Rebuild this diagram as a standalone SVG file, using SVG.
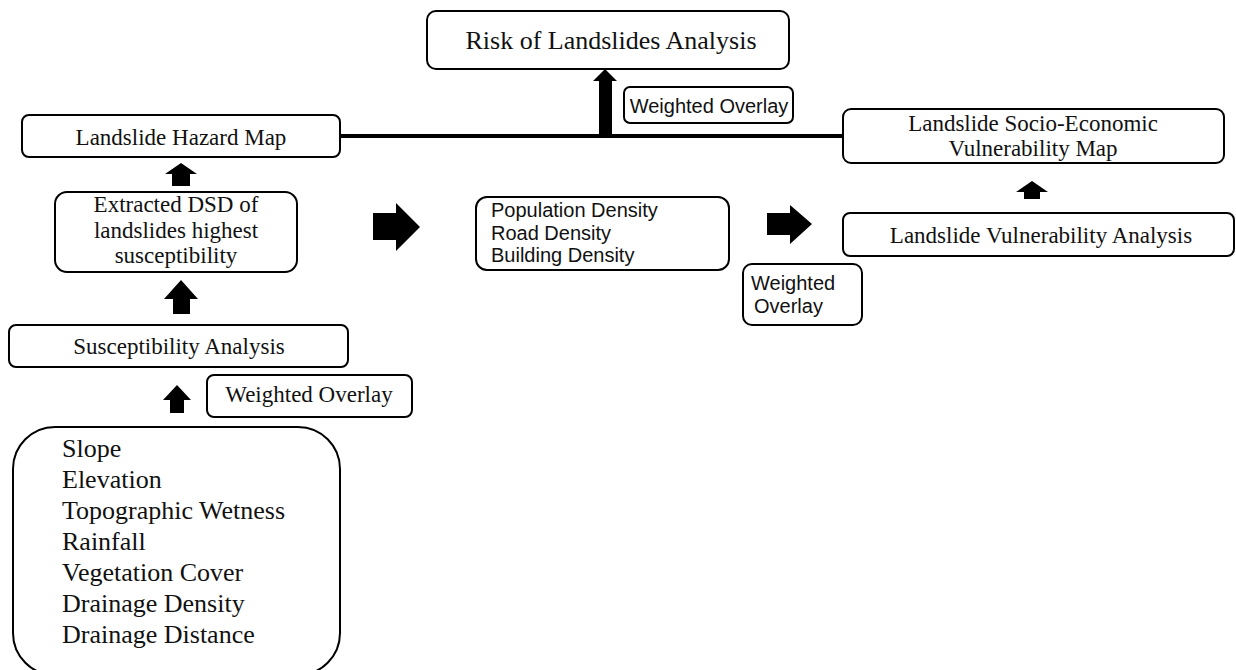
<svg xmlns="http://www.w3.org/2000/svg" width="1236" height="670" viewBox="0 0 1236 670">
<style>
.box{fill:#fff;stroke:#000;stroke-width:2}
.serif{font-family:"Liberation Serif","Times New Roman",serif;fill:#111;font-size:23px}
.sans{font-family:"Liberation Sans",Arial,sans-serif;fill:#111;font-size:20px}
.arr{fill:#000}
</style>
<rect width="1236" height="670" fill="#fff"/>
<g id="connectors">
<line x1="340" y1="136" x2="844" y2="136" stroke="#000" stroke-width="4"/>
<polygon class="arr" points="599,136 612,136 612,81 617,81 605,69 593,81 599,81"/>
<polygon class="arr" points="172,186 190,186 190,174 197,174 181,163 165,174 172,174"/>
<polygon class="arr" points="173,314 190,314 190,299 198,299 181,280 164,299 173,299"/>
<polygon class="arr" points="170,413 184,413 184,400 191,400 177,385 163,400 170,400"/>
<polygon class="arr" points="373,213 396,213 396,203 420,227 396,251 396,240 373,240"/>
<polygon class="arr" points="767,213 790,213 790,205 812,224 790,244 790,235 767,235"/>
<polygon class="arr" points="1024,199 1040,199 1040,192 1048,192 1032,181 1016,192 1024,192"/>
</g>
<g id="risk">
<rect class="box" x="427" y="11" width="362" height="58" rx="9"/>
<text class="serif" x="611" y="49" style="font-size:26px" text-anchor="middle">Risk of Landslides Analysis</text>
</g>
<g id="wo-top">
<rect class="box" x="624" y="87" width="169" height="36" rx="6"/>
<text class="sans" x="709" y="113" text-anchor="middle">Weighted Overlay</text>
</g>
<g id="hazard">
<rect class="box" x="22" y="115" width="318" height="42" rx="7"/>
<text class="serif" x="181" y="145" text-anchor="middle">Landslide Hazard Map</text>
</g>
<g id="dsd">
<rect class="box" x="55" y="192" width="242" height="80" rx="12"/>
<text class="serif" x="176" y="212" text-anchor="middle">Extracted DSD of</text>
<text class="serif" x="176" y="238" text-anchor="middle">landslides highest</text>
<text class="serif" x="176" y="263" text-anchor="middle">susceptibility</text>
</g>
<g id="suscept">
<rect class="box" x="9" y="325" width="339" height="42" rx="7"/>
<text class="serif" x="179" y="354" text-anchor="middle">Susceptibility Analysis</text>
</g>
<g id="wo-left">
<rect class="box" x="207" y="375" width="205" height="42" rx="7"/>
<text class="serif" x="309" y="402" text-anchor="middle">Weighted Overlay</text>
</g>
<g id="factors">
<rect class="box" x="13" y="427" width="327" height="248" rx="42"/>
<g class="serif" style="font-size:26px">
<text x="62" y="457">Slope</text>
<text x="62" y="488">Elevation</text>
<text x="62" y="519">Topographic Wetness</text>
<text x="62" y="550">Rainfall</text>
<text x="62" y="581">Vegetation Cover</text>
<text x="62" y="612">Drainage Density</text>
<text x="62" y="643">Drainage Distance</text>
</g>
</g>
<g id="density">
<rect class="box" x="476" y="197" width="253" height="73" rx="11"/>
<g class="sans">
<text x="491" y="217">Population Density</text>
<text x="491" y="240">Road Density</text>
<text x="491" y="262">Building Density</text>
</g>
</g>
<g id="wo-right">
<rect class="box" x="743" y="264" width="119" height="61" rx="9"/>
<text class="sans" x="751" y="290">Weighted</text>
<text class="sans" x="754" y="313">Overlay</text>
</g>
<g id="socio">
<rect class="box" x="843" y="109" width="381" height="54" rx="8"/>
<text class="serif" x="1033" y="131" text-anchor="middle">Landslide Socio-Economic</text>
<text class="serif" x="1033" y="156" text-anchor="middle">Vulnerability Map</text>
</g>
<g id="vuln">
<rect class="box" x="843" y="213" width="391" height="43" rx="7"/>
<text class="serif" x="1041" y="243" text-anchor="middle">Landslide Vulnerability Analysis</text>
</g>
</svg>
